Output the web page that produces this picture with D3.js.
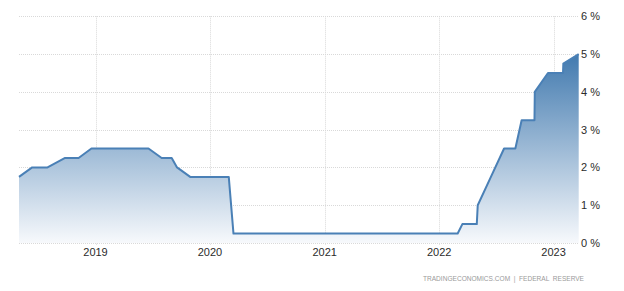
<!DOCTYPE html>
<html>
<head>
<meta charset="utf-8">
<script src="https://cdn.jsdelivr.net/npm/d3@7"></script>
<style>
  html, body { margin: 0; padding: 0; background: #fff; }
  svg { display: block; }
  text { font-family: "Liberation Sans Narrow", "Arial Narrow", "Liberation Sans", Arial, sans-serif; }
  .src { font-family: "Liberation Sans", Arial, sans-serif; white-space: pre; }
</style>
</head>
<body>
<svg id="chart" width="624" height="291"></svg>
<script>
// Federal funds rate (upper-bound style), decision dates and holding points
const dates = [
  "2018-05-02","2018-06-13","2018-08-01","2018-09-26","2018-11-08","2018-12-19",
  "2019-06-19","2019-07-31","2019-09-01","2019-09-18","2019-10-30",
  "2020-03-01","2020-03-16",
  "2022-03-01","2022-03-16","2022-05-01","2022-05-04","2022-06-15","2022-07-27",
  "2022-09-01","2022-09-21","2022-11-01","2022-11-02","2022-12-14",
  "2023-01-31","2023-02-01","2023-03-22"
];
const rates = [
  1.75, 2.00, 2.00, 2.25, 2.25, 2.50,
  2.50, 2.25, 2.25, 2.00, 1.75,
  1.75, 0.25,
  0.25, 0.50, 0.50, 1.00, 1.75, 2.50,
  2.50, 3.25, 3.25, 4.00, 4.50,
  4.50, 4.75, 5.00
];
const yTicks = [0, 1, 2, 3, 4, 5, 6];
const xTickYears = [2019, 2020, 2021, 2022, 2023];
const sourceText = "TRADINGECONOMICS.COM  |  FEDERAL  RESERVE";

(function () {
const data = dates.map((d, i) => ({ date: new Date(d + "T00:00:00Z"), value: rates[i] }));

const svg = d3.select("#chart");
const pLeft = 19, pRight = 578.7, pTop = 16.3, pBottom = 243;

const x = d3.scaleUtc()
  .domain([data[0].date, data[data.length - 1].date])
  .range([pLeft, pRight]);
const y = d3.scaleLinear().domain([0, 6]).range([pBottom, pTop]);

// gradient
const defs = svg.append("defs");
const grad = defs.append("linearGradient")
  .attr("id", "areaGrad")
  .attr("gradientUnits", "userSpaceOnUse")
  .attr("x1", 0).attr("x2", 0)
  .attr("y1", y(5)).attr("y2", y(0));
grad.append("stop").attr("offset", "0%").attr("stop-color", "#427aaf");
grad.append("stop").attr("offset", "100%").attr("stop-color", "#f7f9fc");

// horizontal grid
svg.append("g")
  .selectAll("line")
  .data(yTicks)
  .join("line")
  .attr("x1", pLeft).attr("x2", pRight)
  .attr("y1", d => Math.round(y(d)) + 0.5)
  .attr("y2", d => Math.round(y(d)) + 0.5)
  .attr("stroke", "#d9d9d9")
  .attr("stroke-width", 1)
  .attr("stroke-dasharray", "1,1");

// vertical grid
const yearDates = xTickYears.map(yr => new Date(Date.UTC(yr, 0, 1)));
svg.append("g")
  .selectAll("line")
  .data(yearDates)
  .join("line")
  .attr("x1", d => Math.round(x(d)) + 0.5)
  .attr("x2", d => Math.round(x(d)) + 0.5)
  .attr("y1", pTop).attr("y2", pBottom + 2)
  .attr("stroke", "#d9d9d9")
  .attr("stroke-width", 1)
  .attr("stroke-dasharray", "1,1");

// area
const area = d3.area()
  .x(d => x(d.date))
  .y0(y(0))
  .y1(d => y(d.value));
svg.append("path")
  .datum(data)
  .attr("d", area)
  .attr("fill", "url(#areaGrad)");

// line
const line = d3.line()
  .x(d => x(d.date))
  .y(d => y(d.value));
svg.append("path")
  .datum(data)
  .attr("d", line)
  .attr("fill", "none")
  .attr("stroke", "#4a80b6")
  .attr("stroke-width", 2)
  .attr("stroke-linejoin", "round");

// y labels (right)
svg.append("g")
  .selectAll("text")
  .data(yTicks)
  .join("text")
  .attr("x", 581)
  .attr("y", d => y(d))
  .attr("dy", "0.35em")
  .attr("font-size", 11)
  .attr("fill", "#2b2b2b")
  .text(d => d + " %");

// x labels
svg.append("g")
  .selectAll("text")
  .data(yearDates)
  .join("text")
  .attr("x", d => x(d))
  .attr("y", 256)
  .attr("text-anchor", "middle")
  .attr("font-size", 11)
  .attr("fill", "#2b2b2b")
  .text(d => d.getUTCFullYear());

// source
svg.append("text")
  .attr("class", "src")
  .attr("x", 423)
  .attr("y", 281)
  .attr("font-size", 8)
  .attr("fill", "#9a9a9a")
  .attr("textLength", 161)
  .attr("lengthAdjust", "spacingAndGlyphs")
  .text(sourceText);
})();
</script>
</body>
</html>
